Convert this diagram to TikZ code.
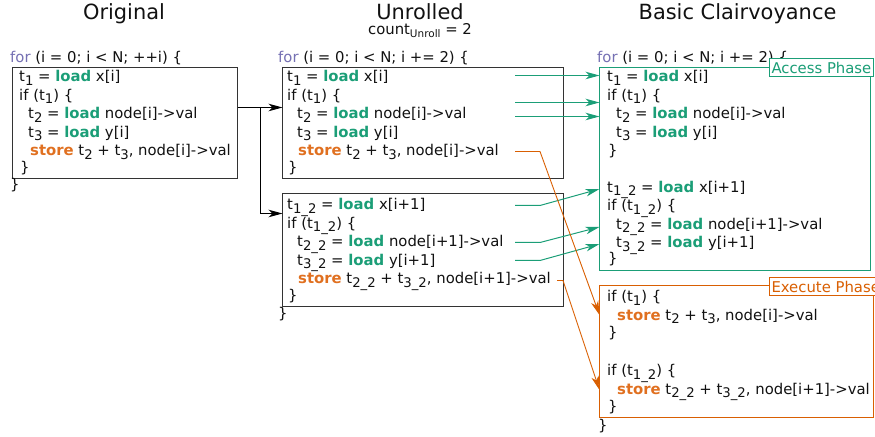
\documentclass[tikz,border=0pt]{standalone}
\usepackage{fontspec}
\setmainfont{DejaVu Sans}
\usetikzlibrary{arrows.meta}
\definecolor{ldc}{HTML}{1B9E77}
\definecolor{stc}{HTML}{D95F02}
\definecolor{stt}{HTML}{E07020}
\definecolor{forc}{HTML}{7570B3}
\definecolor{boxc}{HTML}{333333}
\definecolor{txt}{HTML}{111111}
\newcommand\codefont{\fontsize{14.9}{18}\selectfont}
\newcommand\sbs[1]{\raisebox{-3.5pt}{\fontsize{13.3}{13.3}\selectfont #1}}
\newcommand\kld{\textcolor{ldc}{\textbf{load}}}
\newcommand\kst{\textcolor{stt}{\textbf{store}}}
\newcommand\kfor{\textcolor{forc}{for}}
\tikzset{
  code/.style={anchor=base west, inner sep=0pt, font=\codefont, text=txt},
  ttl/.style={anchor=base, inner sep=0pt, font=\fontsize{21}{25}\selectfont, text=txt},
  box/.style={draw=boxc, line width=1bp, anchor=north west, inner sep=0pt, outer sep=0pt},
  arr/.style={-{Stealth[length=14bp,width=7.5bp,inset=4bp]}},
  blk/.style={arr, draw=black, line width=1bp},
  grn/.style={arr, draw=ldc, line width=1bp},
  org/.style={arr, draw=stc, line width=0.9bp},
  lbl/.style={anchor=north west, inner sep=2pt, outer sep=0pt, fill=white, line width=1bp, font=\codefont, minimum height=18bp}
}
\begin{document}
\begin{tikzpicture}[x=1bp,y=-1bp]
\useasboundingbox (0,0) rectangle (875,437);

% titles
\node[ttl] (tO) at (124,20) {Original};
\node[ttl] (tU) at (420,20) {Unrolled};
\node[code, anchor=base] (tUc) at (420,35) {count\raisebox{-2.5pt}{\fontsize{10.5}{10.5}\selectfont Unroll} = 2};
\node[ttl] (tB) at (737.5,20) {Basic Clairvoyance};

% Original
\node[code] (ofor) at (10,63) {\kfor{} (i = 0; i < N; ++i) \{};
\node[box, minimum width=225bp, minimum height=111bp] (obox) at (12.5,67.5) {};
\node[code] (o1) at (19,82) {t\sbs{1} = \kld{} x[i]};
\node[code] (o2) at (19,100.4) {if (t\sbs{1}) \{};
\node[code] (o3) at (28,118.8) {t\sbs{2} = \kld{} node[i]->val};
\node[code] (o4) at (28,137.2) {t\sbs{3} = \kld{} y[i]};
\node[code] (o5) at (30,155.6) {\kst{} t\sbs{2} + t\sbs{3}, node[i]->val};
\node[code] (o6) at (20,173) {\}};
\node[code] (oend) at (10,190) {\}};

% Unrolled
\node[code] (ufor) at (278,63) {\kfor{} (i = 0; i < N; i += 2) \{};
\node[box, minimum width=281bp, minimum height=111bp] (ubox) at (282.5,67.5) {};
\node[code] (u1) at (287,82) {t\sbs{1} = \kld{} x[i]};
\node[code] (u2) at (287,100.4) {if (t\sbs{1}) \{};
\node[code] (u3) at (297,118.8) {t\sbs{2} = \kld{} node[i]->val};
\node[code] (u4) at (297,137.2) {t\sbs{3} = \kld{} y[i]};
\node[code] (u5) at (298,155.6) {\kst{} t\sbs{2} + t\sbs{3}, node[i]->val};
\node[code] (u6) at (288,173) {\}};

\node[box, minimum width=281bp, minimum height=113bp] (u2box) at (282.5,193.5) {};
\node[code] (v1) at (287,210) {t\sbs{1\_2} = \kld{} x[i+1]};
\node[code] (v2) at (287,228.4) {if (t\sbs{1\_2}) \{};
\node[code] (v3) at (297,246.8) {t\sbs{2\_2} = \kld{} node[i+1]->val};
\node[code] (v4) at (297,265.2) {t\sbs{3\_2} = \kld{} y[i+1]};
\node[code] (v5) at (298,283.6) {\kst{} t\sbs{2\_2} + t\sbs{3\_2}, node[i+1]->val};
\node[code] (v6) at (288,301) {\}};
\node[code] (uend) at (278,319) {\}};

% Basic Clairvoyance
\node[code] (bfor) at (597,63) {\kfor{} (i = 0; i < N; i += 2) \{};
\node[box, draw=ldc, minimum width=271bp, minimum height=203bp] (abox) at (599.5,67.5) {};
\node[code] (a1) at (607,82) {t\sbs{1} = \kld{} x[i]};
\node[code] (a2) at (607,100.4) {if (t\sbs{1}) \{};
\node[code] (a3) at (616,118.8) {t\sbs{2} = \kld{} node[i]->val};
\node[code] (a4) at (616,137.2) {t\sbs{3} = \kld{} y[i]};
\node[code] (a5) at (608,155.6) {\}};
\node[code] (a6) at (607,192.4) {t\sbs{1\_2} = \kld{} x[i+1]};
\node[code] (a7) at (607,210.8) {if (t\sbs{1\_2}) \{};
\node[code] (a8) at (616,229.2) {t\sbs{2\_2} = \kld{} node[i+1]->val};
\node[code] (a9) at (616,247.6) {t\sbs{3\_2} = \kld{} y[i+1]};
\node[code] (a10) at (608,264) {\}};
\node[lbl, draw=ldc, text=ldc] (alab) at (769.5,58.5) {Access Phase};

\node[box, draw=stc, minimum width=274bp, minimum height=132bp] (ebox) at (599.5,285.5) {};
\node[code] (e1) at (607,302) {if (t\sbs{1}) \{};
\node[code] (e2) at (617,320.4) {\kst{} t\sbs{2} + t\sbs{3}, node[i]->val};
\node[code] (e3) at (608,338) {\}};
\node[code] (e4) at (607,375.6) {if (t\sbs{1\_2}) \{};
\node[code] (e5) at (617,394) {\kst{} t\sbs{2\_2} + t\sbs{3\_2}, node[i+1]->val};
\node[code] (e6) at (608,411.5) {\}};
\node[code] (bend) at (598,430) {\}};
\node[lbl, draw=stc, text=stc] (elab) at (769.5,277.5) {Execute Phase};

% black connectors
\coordinate (br) at (260.5,107.5);
\draw[blk] (obox.east |- br) -- (ubox.west |- br);
\draw[blk] (br) |- (u2box.west |- 0,213.5);

% green connectors
\coordinate (g1) at (515,75.5);
\coordinate (g2) at (515,102.5);
\coordinate (g3) at (515,116.5);
\coordinate (g4) at (515,205.5);
\coordinate (g5) at (515,242.5);
\coordinate (g6) at (515,260.5);
\draw[grn] (g1) -- (abox.west |- g1);
\draw[grn] (g2) -- (abox.west |- g2);
\draw[grn] (g3) -- (abox.west |- g3);
\draw[grn] (g4) -- ++(25,0) -- (abox.west |- 0,189);
\draw[grn] (g5) -- ++(25,0) -- (abox.west |- 0,227);
\draw[grn] (g6) -- ++(25,0) -- (abox.west |- 0,244);

% orange connectors
\coordinate (s1) at (515,151.5);
\coordinate (s2) at (557,280.5);
\draw[org] (s1) -- ++(25,0) -- (ebox.west |- 0,315);
\draw[org] (s2) -- ++(6,0) -- (ebox.west |- 0,390);
\end{tikzpicture}
\end{document}
